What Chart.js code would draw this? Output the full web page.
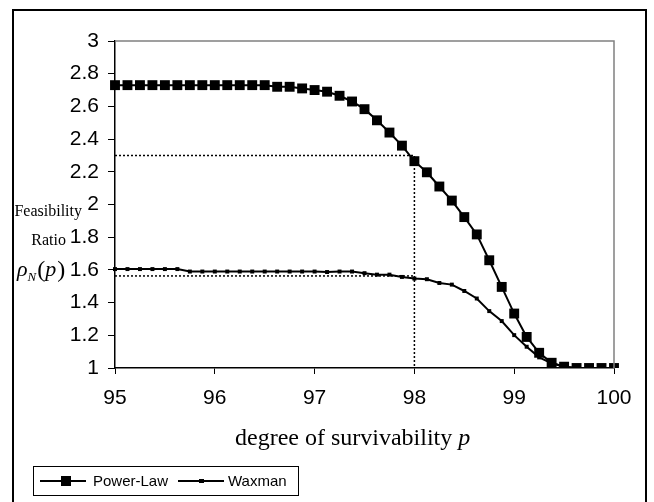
<!DOCTYPE html>
<html lang="en">
<head>
    <meta charset="UTF-8">
    <title>Feasibility Ratio vs degree of survivability</title>
    <script src="https://cdn.jsdelivr.net/npm/chart.js"></script>
    <style>
        body {
            margin: 0;
            background: #fff;
        }
        #chart {
            display: block;
        }
    </style>
</head>
<body>
    <canvas id="chart" width="654" height="502"></canvas>
    <script>
        // degree of survivability p (x values, one point every 0.125)
        const pValues = [
            95, 95.125, 95.25, 95.375, 95.5, 95.625, 95.75, 95.875,
            96, 96.125, 96.25, 96.375, 96.5, 96.625, 96.75, 96.875,
            97, 97.125, 97.25, 97.375, 97.5, 97.625, 97.75, 97.875,
            98, 98.125, 98.25, 98.375, 98.5, 98.625, 98.75, 98.875,
            99, 99.125, 99.25, 99.375, 99.5, 99.625, 99.75, 99.875,
            100
        ];

        const powerLaw = [
            2.73, 2.73, 2.73, 2.73, 2.73, 2.73, 2.73, 2.73,
            2.73, 2.73, 2.73, 2.73, 2.73, 2.72, 2.72, 2.71,
            2.70, 2.69, 2.665, 2.63, 2.583, 2.515, 2.44, 2.36,
            2.265, 2.197, 2.11, 2.024, 1.923, 1.817, 1.659, 1.496,
            1.333, 1.19, 1.093, 1.032, 1.008, 1.0, 1.0, 1.0,
            1.0
        ];

        const waxman = [
            1.605, 1.605, 1.605, 1.605, 1.605, 1.605, 1.59, 1.59,
            1.59, 1.59, 1.59, 1.59, 1.59, 1.59, 1.59, 1.59,
            1.59, 1.587, 1.59, 1.59, 1.58, 1.571, 1.571, 1.557,
            1.547, 1.543, 1.52, 1.51, 1.471, 1.425, 1.348, 1.287,
            1.201, 1.13, 1.065, 1.029, 1.008, 1.0, 1.0, 1.0,
            1.0
        ];

        // dotted guide lines read at p = 98
        const guidePL_x = [95, 98, 98];
        const guidePL_y = [2.3, 2.3, 1];
        const guideWax_x = [95, 98];
        const guideWax_y = [1.563, 1.563];

        const yTicks = [1, 1.2, 1.4, 1.6, 1.8, 2, 2.2, 2.4, 2.6, 2.8, 3];
        const xTicks = [95, 96, 97, 98, 99, 100];

        function toPoints(xs, ys) {
            return xs.map((x, i) => ({ x: x, y: ys[i] }));
        }

        const sans = '"Liberation Sans", Arial, sans-serif';
        const serif = '"Liberation Serif", "Times New Roman", serif';

        // frame, titles and legend drawn on top of the chart
        const decorations = {
            id: 'decorations',
            afterDraw(chart) {
                const ctx = chart.ctx;
                const a = chart.chartArea;
                ctx.save();

                // outer border
                ctx.strokeStyle = '#000';
                ctx.lineWidth = 2;
                ctx.strokeRect(13, 10, 633, 502);

                // grey top / right edge of plot area
                ctx.strokeStyle = '#808080';
                ctx.lineWidth = 1.5;
                ctx.beginPath();
                ctx.moveTo(a.left, a.top);
                ctx.lineTo(a.right, a.top);
                ctx.lineTo(a.right, a.bottom);
                ctx.stroke();

                ctx.fillStyle = '#000';
                ctx.textBaseline = 'alphabetic';

                // y title
                ctx.font = '16px ' + serif;
                ctx.textAlign = 'right';
                ctx.fillText('Feasibility', 82, 216);
                ctx.fillText('Ratio', 66, 245);

                ctx.textAlign = 'left';
                let x = 17;
                ctx.font = 'italic 22px ' + serif;
                ctx.fillText('\u03C1', x, 276);
                x += ctx.measureText('\u03C1').width;
                ctx.font = 'italic 13px ' + serif;
                ctx.fillText('N', x, 281);
                x += ctx.measureText('N').width + 1;
                ctx.font = '24px ' + serif;
                ctx.fillText('(', x, 277);
                x += ctx.measureText('(').width;
                ctx.font = 'italic 22px ' + serif;
                ctx.fillText('p', x, 276);
                x += ctx.measureText('p').width + 1;
                ctx.font = '24px ' + serif;
                ctx.fillText(')', x, 277);

                // x title
                ctx.font = '24px ' + serif;
                const t1 = 'degree of survivability ';
                ctx.fillText(t1, 235, 445);
                const w1 = ctx.measureText(t1).width;
                ctx.font = 'italic 24px ' + serif;
                ctx.fillText('p', 235 + w1, 445);

                // legend
                ctx.strokeStyle = '#000';
                ctx.lineWidth = 1;
                ctx.strokeRect(33.5, 466.5, 265, 29);
                ctx.lineWidth = 2;
                ctx.beginPath();
                ctx.moveTo(40, 481);
                ctx.lineTo(86, 481);
                ctx.moveTo(178, 481);
                ctx.lineTo(224, 481);
                ctx.stroke();
                ctx.fillRect(61, 476, 10, 10);
                ctx.fillRect(199, 479, 5, 4);
                ctx.font = '15px ' + sans;
                ctx.fillText('Power-Law', 93, 486);
                ctx.fillText('Waxman', 228, 486);

                ctx.restore();
            }
        };

        // markers sitting on the x axis are cut at the plot bottom, as in the original
        const plotClip = { left: 10, top: 10, right: 10, bottom: 0 };

        const ctx = document.getElementById('chart').getContext('2d');
        const chart = new Chart(ctx, {
            type: 'line',
            data: {
                datasets: [
                    {
                        label: 'Power-Law',
                        data: toPoints(pValues, powerLaw),
                        borderColor: '#000',
                        backgroundColor: '#000',
                        borderWidth: 2,
                        pointStyle: 'rect',
                        pointRadius: 7,
                        pointBorderWidth: 0,
                        tension: 0,
                        clip: plotClip
                    },
                    {
                        label: 'Waxman',
                        data: toPoints(pValues, waxman),
                        borderColor: '#000',
                        backgroundColor: '#000',
                        borderWidth: 2,
                        pointStyle: 'rect',
                        pointRadius: 2.8,
                        pointBorderWidth: 0,
                        tension: 0,
                        clip: plotClip
                    },
                    {
                        label: 'guide PL',
                        data: toPoints(guidePL_x, guidePL_y),
                        borderColor: '#000',
                        borderWidth: 1.5,
                        borderDash: [2, 2],
                        pointRadius: 0,
                        tension: 0
                    },
                    {
                        label: 'guide Wax',
                        data: toPoints(guideWax_x, guideWax_y),
                        borderColor: '#000',
                        borderWidth: 1.5,
                        borderDash: [2, 2],
                        pointRadius: 0,
                        tension: 0
                    }
                ]
            },
            options: {
                responsive: false,
                animation: false,
                layout: {
                    padding: { left: 0, top: 41, right: 40, bottom: 0 }
                },
                plugins: {
                    legend: { display: false },
                    tooltip: { enabled: false }
                },
                scales: {
                    x: {
                        type: 'linear',
                        min: 95,
                        max: 100,
                        afterFit: s => { s.height = 134; },
                        afterBuildTicks: s => { s.ticks = xTicks.map(v => ({ value: v })); },
                        grid: {
                            drawOnChartArea: false,
                            drawTicks: true,
                            tickLength: 6,
                            color: '#000'
                        },
                        border: { display: true, color: '#000', width: 1.5 },
                        ticks: {
                            color: '#000',
                            padding: 12,
                            maxRotation: 0,
                            font: { family: sans, size: 21 }
                        }
                    },
                    y: {
                        min: 1,
                        max: 3,
                        afterFit: s => { s.width = 115; },
                        afterBuildTicks: s => { s.ticks = yTicks.map(v => ({ value: v })); },
                        grid: {
                            drawOnChartArea: false,
                            drawTicks: true,
                            tickLength: 7,
                            color: '#000'
                        },
                        border: { display: true, color: '#000', width: 1.5 },
                        ticks: {
                            color: '#000',
                            padding: 9,
                            font: { family: sans, size: 21 },
                            callback: v => String(Number(v.toFixed(1)))
                        }
                    }
                }
            },
            plugins: [decorations]
        });
    </script>
</body>
</html>
